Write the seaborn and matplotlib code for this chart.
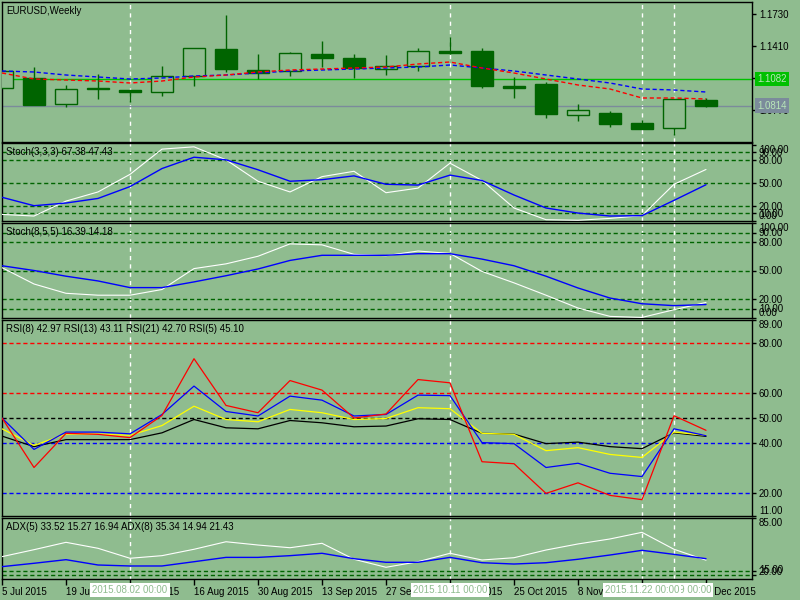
import numpy as np
import matplotlib
matplotlib.use("Agg")
import matplotlib.pyplot as plt
import seaborn as sns
from matplotlib.transforms import blended_transform_factory

# weekly EURUSD bars
dates = ["5 Jul 2015", "12 Jul 2015", "19 Jul 2015", "26 Jul 2015", "2 Aug 2015",
         "9 Aug 2015", "16 Aug 2015", "23 Aug 2015", "30 Aug 2015", "6 Sep 2015",
         "13 Sep 2015", "20 Sep 2015", "27 Sep 2015", "4 Oct 2015", "11 Oct 2015",
         "18 Oct 2015", "25 Oct 2015", "1 Nov 2015", "8 Nov 2015", "15 Nov 2015",
         "22 Nov 2015", "29 Nov 2015", "6 Dec 2015"]
opens = [1.0990, 1.1090, 1.0830, 1.0980, 1.0970, 1.0950, 1.1110, 1.1380, 1.1170, 1.1160, 1.1330, 1.1290,
         1.1180, 1.1210, 1.1360, 1.1360, 1.1010, 1.1030, 1.0720, 1.0740, 1.0640, 1.0590, 1.0870]
highs = [1.1170, 1.1200, 1.1020, 1.1130, 1.0970, 1.1210, 1.1390, 1.1720, 1.1330, 1.1350, 1.1460, 1.1330,
         1.1320, 1.1390, 1.1500, 1.1390, 1.1100, 1.1050, 1.0830, 1.0760, 1.0670, 1.0880, 1.0890]
lows = [1.0990, 1.0820, 1.0800, 1.0880, 1.0850, 1.0910, 1.1010, 1.1150, 1.1080, 1.1110, 1.1200, 1.1090,
        1.1120, 1.1160, 1.1330, 1.0990, 1.0890, 1.0690, 1.0660, 1.0600, 1.0580, 1.0520, 1.0800]
closes = [1.1160, 1.0820, 1.0980, 1.0980, 1.0950, 1.1110, 1.1390, 1.1180, 1.1140, 1.1340, 1.1290, 1.1190,
          1.1210, 1.1360, 1.1340, 1.1010, 1.0990, 1.0730, 1.0770, 1.0630, 1.0580, 1.0880, 1.0814]
ma_blue = [1.116, 1.115, 1.112, 1.110, 1.108, 1.109, 1.111, 1.112, 1.114, 1.116, 1.117, 1.118,
           1.119, 1.120, 1.122, 1.119, 1.116, 1.112, 1.108, 1.104, 1.098, 1.097, 1.095]
ma_red = [1.114, 1.108, 1.107, 1.106, 1.104, 1.106, 1.110, 1.112, 1.115, 1.117, 1.118, 1.119,
          1.120, 1.123, 1.125, 1.119, 1.114, 1.108, 1.102, 1.098, 1.089, 1.089, 1.088]
ask_price = 1.1082
bid_price = 1.0814
price_ticks = [1.0770, 1.1090, 1.1410, 1.1730]

stoch1_main = [8.6, 6.5, 26, 38, 61, 94, 97, 80, 52, 38, 58, 65, 37, 43, 75.6, 53, 17, 1.7, 1.0, 3.4, 7, 48, 67.38]
stoch1_signal = [31, 20, 23.5, 29.5, 45, 68.6, 83.4, 80, 67, 52, 54, 59, 48, 47, 60, 53, 34, 17, 10.4, 6.5, 7, 27, 47.43]
stoch2_main = [53, 35.8, 26, 24, 24, 30, 52, 57, 65, 78, 77, 67, 65.6, 70.5, 68, 49, 37, 24, 10.5, 1.7, 0.6, 8.7, 16.39]
stoch2_signal = [55, 50, 44, 39, 32, 32, 38, 44.5, 51.6, 60.6, 66, 66, 66, 67.7, 67.7, 62, 55, 44, 31.6, 21, 15, 13, 14.18]
stoch_levels = [90, 80, 50, 20, 10]
stoch_ticks = [0, 10, 20, 50, 80, 90, 100]

rsi5 = [50, 30.3, 43.9, 43.5, 42.2, 51, 73.6, 55, 52.1, 64.9, 61.1, 50, 51.6, 65.3, 64, 32.6, 31.8, 20, 24.2, 19.2, 17.5, 50.9, 45.10]
rsi8 = [50, 37.5, 44.4, 44.4, 43.7, 51.4, 62.7, 52.6, 50.8, 58.7, 57.1, 50.8, 51.4, 59.1, 58.9, 40.2, 39.8, 30.3, 32, 28, 26.7, 45.7, 42.97]
rsi13 = [45.7, 39.1, 43.6, 43.6, 43.1, 47, 54.7, 49.4, 48.5, 53.4, 52.1, 49.4, 49.8, 54.1, 53.7, 43.9, 43.5, 37, 38.2, 35.5, 34.3, 44.4, 43.11]
rsi21 = [42.8, 38.6, 41.4, 41.4, 41.4, 44.1, 49.4, 46.1, 45.7, 49, 48.1, 46.5, 46.8, 49.7, 49.4, 43.9, 43.6, 39.8, 40.4, 38.6, 37.8, 44.1, 42.70]
rsi_levels = [80, 60, 50, 40, 20]
rsi_level_colors = ["red", "red", "black", "blue", "blue"]
rsi_ticks = [11, 20, 40, 50, 60, 80, 89]

adx5 = [37.8, 46.3, 55.3, 48, 35.8, 39, 46.8, 56, 52, 48.7, 54.1, 34.6, 24.8, 31.6, 41.9, 33.7, 36.5, 45.9, 53.3, 59.4, 67.5, 46.8, 33.52]
adx8 = [25.6, 29.7, 34.1, 27.6, 26.4, 26.4, 31.6, 36.9, 36.9, 39, 41.9, 35.3, 30.9, 30.9, 36.9, 30.4, 28.8, 30.4, 34.6, 39.8, 45.5, 40.6, 35.34]
adx_levels = [20, 15]
adx_ticks = [15, 20, 85]

vline_bars = [4, 14, 20, 21]
vline_labels = ["2015.08.02 00:00", "2015.10.11 00:00", "2015.11.22 00:00", "2015.11.29 00:00"]

bg = "#8fbc8f"
dark = "#006400"

sns.set_theme(style="ticks", rc={"axes.facecolor": bg, "figure.facecolor": bg,
                                 "axes.edgecolor": "black", "axes.linewidth": 1.0,
                                 "axes.grid": False})
plt.rcParams["font.family"] = ["Liberation Sans", "DejaVu Sans"]

fig = plt.figure(figsize=(8, 6), dpi=100)
W, H = 800, 600


def pane(top, bottom):
    # pixel rows of a pane -> figure axes
    return fig.add_axes([2 / W, 1 - bottom / H, 750 / W, (bottom - top) / H])


x = np.arange(len(dates))
ax_main = pane(2, 142)
ax_s1 = pane(143, 221)
ax_s2 = pane(223, 318)
ax_rsi = pane(320, 516)
ax_adx = pane(518, 579)
axes = [ax_main, ax_s1, ax_s2, ax_rsi, ax_adx]

for ax in axes:
    ax.set_xlim(0, 750 / 32)
    ax.yaxis.tick_right()
    ax.tick_params(axis="y", direction="out", length=3, width=1, labelsize=7, pad=2, colors="black")
    ax.set_xticks([])
    for b in vline_bars:
        ax.axvline(b, color="white", lw=1, ls=(0, (3, 3)), zorder=1)

# --- price pane
o, h, l, c = map(np.array, (opens, highs, lows, closes))
up = c >= o
ax_main.vlines(x, l, h, color=dark, lw=1.0, zorder=2)
body_h = np.maximum(np.abs(c - o), 0.0006)
ax_main.bar(x[up], body_h[up], bottom=np.minimum(o, c)[up], width=0.68,
            facecolor=bg, edgecolor=dark, lw=1.0, zorder=3)
ax_main.bar(x[~up], body_h[~up], bottom=np.minimum(o, c)[~up], width=0.68,
            facecolor=dark, edgecolor=dark, lw=1.0, zorder=3)
sns.lineplot(x=x, y=ma_blue, ax=ax_main, color="blue", lw=1.0, ls=(0, (3, 2)), zorder=4)
sns.lineplot(x=x, y=ma_red, ax=ax_main, color="red", lw=1.0, ls=(0, (3, 2)), zorder=4)
ax_main.axhline(ask_price, color="#00c000", lw=1, zorder=1.5)
ax_main.axhline(bid_price, color="#7b8b9b", lw=1, zorder=1.5)
ax_main.set_ylim(1.045, 1.185)
ax_main.set_yticks(price_ticks)
ax_main.set_yticklabels([f"{t:.4f}" for t in price_ticks])
tr = blended_transform_factory(ax_main.transAxes, ax_main.transData)
for val, col in [(ask_price, "#00c000"), (bid_price, "#7b8b9b")]:
    ax_main.text(1.0067, val, f"{val:.4f}", transform=tr, ha="left", va="center", fontsize=7,
                 color="#b8e6b8", clip_on=False, zorder=10,
                 bbox=dict(facecolor=col, edgecolor="none", pad=1.6))

# --- stochastics
for ax, main, sig in [(ax_s1, stoch1_main, stoch1_signal), (ax_s2, stoch2_main, stoch2_signal)]:
    for lv in stoch_levels:
        ax.axhline(lv, color=dark, lw=1, ls=(0, (3, 2)), zorder=1)
    sns.lineplot(x=x, y=main, ax=ax, color="white", lw=0.8, zorder=3)
    sns.lineplot(x=x, y=sig, ax=ax, color="blue", lw=1.0, zorder=3)
    ax.set_yticks(stoch_ticks)
    ax.set_yticklabels([f"{t:.2f}" for t in stoch_ticks])
ax_s1.set_ylim(0, 102)
ax_s2.set_ylim(0, 100)

# --- RSI
for lv, col in zip(rsi_levels, rsi_level_colors):
    ax_rsi.axhline(lv, color=col, lw=1, ls=(0, (3, 2)), zorder=1)
for series, col in [(rsi21, "black"), (rsi13, "yellow"), (rsi8, "blue"), (rsi5, "red")]:
    sns.lineplot(x=x, y=series, ax=ax_rsi, color=col, lw=0.9, zorder=3)
ax_rsi.set_ylim(11, 89)
ax_rsi.set_yticks(rsi_ticks)
ax_rsi.set_yticklabels([f"{t:.2f}" for t in rsi_ticks])

# --- ADX
for lv in adx_levels:
    ax_adx.axhline(lv, color=dark, lw=1, ls=(0, (3, 2)), zorder=1)
sns.lineplot(x=x, y=adx5, ax=ax_adx, color="white", lw=0.8, zorder=3)
sns.lineplot(x=x, y=adx8, ax=ax_adx, color="blue", lw=1.0, zorder=3)
ax_adx.set_ylim(10.5, 85)
ax_adx.set_yticks(adx_ticks)
ax_adx.set_yticklabels([f"{t:.2f}" for t in adx_ticks])

for ax in axes:
    ax.set_xlabel("")
    ax.set_ylabel("")
    if ax.get_legend():
        ax.get_legend().remove()

# top/bottom labels of indicator scales sit inside the pane like MT4
for ax in [ax_s1, ax_s2, ax_rsi, ax_adx]:
    labs = ax.get_yticklabels()
    labs[0].set_va("bottom")
    labs[-1].set_va("top")

# date axis
ax_adx.set_xticks(x[::2])
ax_adx.set_xticklabels(dates[::2])
ax_adx.tick_params(axis="x", direction="out", length=4, width=1, labelsize=7, pad=2, colors="black")
for lab in ax_adx.get_xticklabels():
    lab.set_ha("left")

for i, (b, txt) in enumerate(zip(vline_bars, vline_labels)):
    ax_adx.annotate(txt, xy=(b, 0), xycoords=("data", "axes fraction"), xytext=(0, -11),
                    textcoords="offset pixels", ha="center", va="center", fontsize=7,
                    color=bg, annotation_clip=False, zorder=20 - i,
                    bbox=dict(facecolor="white", edgecolor="none", pad=1.5))

# pane captions
captions = [(ax_main, "EURUSD,Weekly"),
            (ax_s1, "Stoch(3,3,3) 67.38 47.43"),
            (ax_s2, "Stoch(8,5,5) 16.39 14.18"),
            (ax_rsi, "RSI(8) 42.97 RSI(13) 43.11 RSI(21) 42.70 RSI(5) 45.10"),
            (ax_adx, "ADX(5) 33.52 15.27 16.94 ADX(8) 35.34 14.94 21.43")]
for ax, txt in captions:
    ax.annotate(txt, xy=(0, 1), xycoords="axes fraction", xytext=(4, -9),
                textcoords="offset pixels", ha="left", va="center", fontsize=7, color="black",
                zorder=6)

fig.savefig("out.png", dpi=100, facecolor=bg)
